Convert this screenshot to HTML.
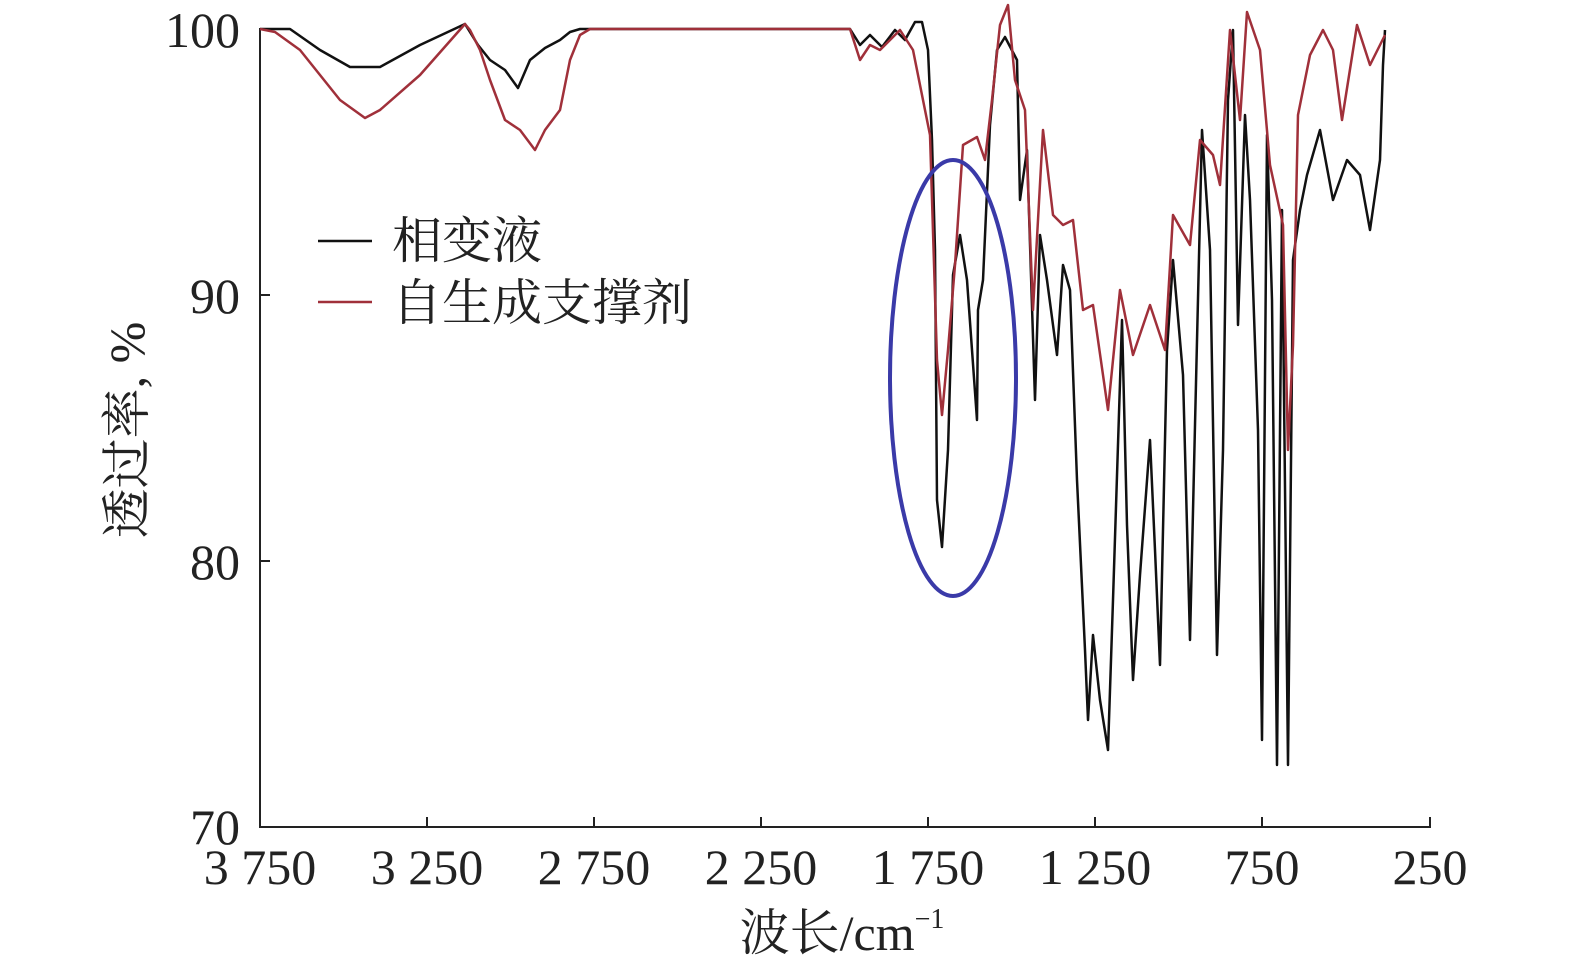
<!DOCTYPE html>
<html><head><meta charset="utf-8"><style>
body{margin:0;background:#fff;}
svg text{font-family:"Liberation Serif","Noto Serif CJK SC",serif;fill:#222;}
</style></head><body>
<svg width="1575" height="970" viewBox="0 0 1575 970" xmlns="http://www.w3.org/2000/svg">
<g stroke="#222" stroke-width="2" fill="none">
<line x1="260" y1="28" x2="260" y2="828"/>
<line x1="259" y1="827" x2="1431" y2="827"/>
<line x1="260" y1="29" x2="270" y2="29"/>
<line x1="260" y1="295" x2="270" y2="295"/>
<line x1="260" y1="561" x2="270" y2="561"/>
<line x1="427" y1="827" x2="427" y2="817"/>
<line x1="594" y1="827" x2="594" y2="817"/>
<line x1="761" y1="827" x2="761" y2="817"/>
<line x1="928" y1="827" x2="928" y2="817"/>
<line x1="1095" y1="827" x2="1095" y2="817"/>
<line x1="1262" y1="827" x2="1262" y2="817"/>
<line x1="1430" y1="827" x2="1430" y2="817"/>
</g>
<g font-size="50" text-anchor="end">
<text x="240" y="47">100</text>
<text x="240" y="313">90</text>
<text x="240" y="579">80</text>
<text x="240" y="844">70</text>
</g>
<g font-size="50" text-anchor="middle">
<text x="260" y="884">3 750</text>
<text x="427" y="884">3 250</text>
<text x="594" y="884">2 750</text>
<text x="761" y="884">2 250</text>
<text x="928" y="884">1 750</text>
<text x="1095" y="884">1 250</text>
<text x="1262" y="884">750</text>
<text x="1430" y="884">250</text>
<text x="842" y="950">波长/cm<tspan font-size="28" dy="-22">−1</tspan></text>
</g>
<text font-size="50" text-anchor="middle" transform="translate(144,430) rotate(-90)">透过率, %</text>
<line x1="318" y1="241" x2="372" y2="241" stroke="#111" stroke-width="2.5"/>
<line x1="318" y1="302" x2="372" y2="302" stroke="#a0303a" stroke-width="2.5"/>
<text x="392" y="258" font-size="50">相变液</text>
<text x="392" y="320" font-size="50">自生成支撑剂</text>
<polyline fill="none" stroke="#111" stroke-width="2.5" stroke-linejoin="round" points="260,29 290,29 320,50 350,67 380,67 420,45 465,24 478,45 490,60 505,70 518,88 530,60 545,48 560,40 570,32 580,29 850,29 860,45 870,35 882,47 895,30 905,40 915,22 922,22 928,50 932,140 935,250 937,500 942,547 948,450 953,275 960,235 967,280 972,350 977,420 978,310 983,280 990,125 997,50 1005,37 1017,60 1020,200 1027,150 1035,400 1040,235 1047,280 1057,355 1063,265 1070,290 1077,480 1085,650 1088,720 1093,635 1100,700 1108,750 1113,600 1122,320 1127,525 1133,680 1140,575 1150,440 1155,550 1160,665 1167,350 1173,260 1183,375 1190,640 1195,425 1202,130 1210,250 1217,655 1223,450 1228,100 1233,30 1238,325 1245,115 1250,200 1258,430 1262,740 1267,135 1272,300 1277,765 1282,210 1288,765 1293,260 1300,210 1307,175 1320,130 1333,200 1347,160 1360,175 1370,230 1380,160 1383,65 1385,30"/>
<polyline fill="none" stroke="#a0303a" stroke-width="2.5" stroke-linejoin="round" points="260,29 275,32 300,50 340,100 365,118 380,110 420,75 465,24 470,30 480,50 490,80 505,120 520,130 535,150 545,130 560,110 570,60 580,35 590,29 850,29 860,60 870,45 880,50 890,40 900,30 913,50 930,135 937,360 942,415 948,350 955,265 963,145 977,137 985,160 992,100 1000,25 1008,5 1015,80 1025,110 1033,310 1043,130 1053,215 1063,225 1073,220 1083,310 1093,305 1108,410 1120,290 1133,355 1150,305 1165,350 1173,215 1190,245 1200,140 1213,155 1220,185 1230,30 1240,120 1247,12 1260,50 1270,165 1283,225 1288,450 1293,345 1298,115 1310,55 1323,30 1333,50 1342,120 1357,25 1370,65 1385,35"/>
<ellipse cx="953" cy="378" rx="63" ry="218" fill="none" stroke="#3a3aa8" stroke-width="4"/>
</svg>
</body></html>
